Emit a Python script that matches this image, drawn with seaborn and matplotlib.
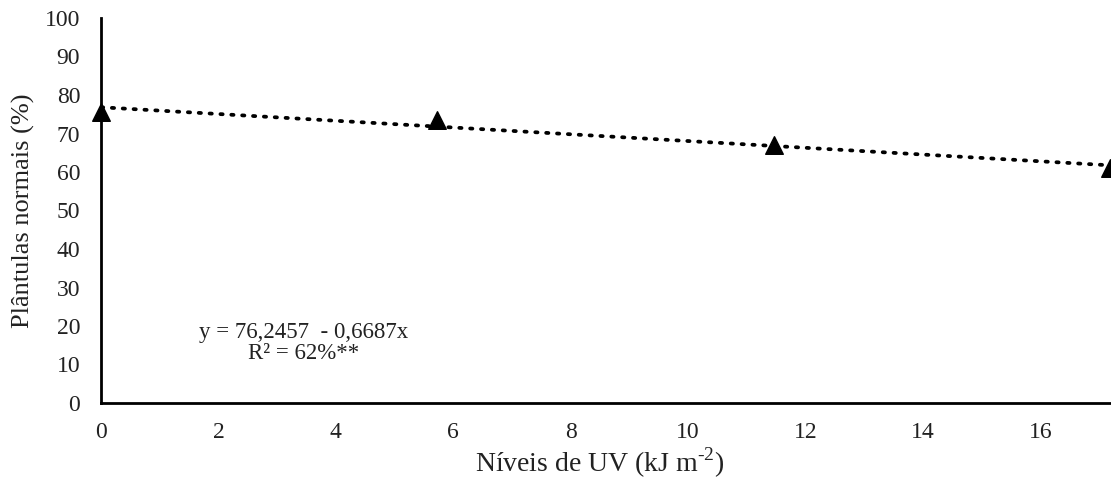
import numpy as np
import pandas as pd
import matplotlib
matplotlib.use("Agg")
import matplotlib.pyplot as plt
import seaborn as sns

# Data
uv_levels = [0.0, 5.73, 11.46, 17.19]
plantulas = [75.6, 73.5, 67.0, 61.0]
y_ticks = [0, 10, 20, 30, 40, 50, 60, 70, 80, 90, 100]
x_ticks = [0, 2, 4, 6, 8, 10, 12, 14, 16]
equation_text = "y = 76,2457  - 0,6687x"
r2_text = "R² = 62%**"

df = pd.DataFrame({"uv": uv_levels, "pn": plantulas})

sns.set_theme(style="white")
plt.rcParams["font.family"] = ["Liberation Serif", "DejaVu Serif"]
plt.rcParams["mathtext.fontset"] = "custom"
plt.rcParams["mathtext.rm"] = "Liberation Serif"

fig = plt.figure(figsize=(11.11, 4.82), dpi=100)
ax = fig.add_axes([101 / 1111, 79 / 482, 1 - 101 / 1111, (403 - 18) / 482])

# trend line (linear fit of the data)
coef = np.polyfit(df["uv"], df["pn"], 1)
xs = np.array([0.0, 17.2])
trend = pd.DataFrame({"uv": xs, "fit": np.polyval(coef, xs)})
sns.lineplot(data=trend, x="uv", y="fit", ax=ax, color="black",
             linestyle=(0, (0.6, 2.3)), linewidth=2.7, dash_capstyle="round")

sns.scatterplot(data=df, x="uv", y="pn", ax=ax, marker="^", s=160,
                color="black", edgecolor="black", zorder=5, clip_on=False)

ax.set_xlim(0, 17.2)
ax.set_ylim(0, 100)
ax.set_xticks(x_ticks)
ax.set_yticks(y_ticks)
ax.tick_params(axis="both", direction="out", length=5, width=2,
               color="black", labelsize=17, labelcolor="#222222", pad=10)
ax.tick_params(axis="x", pad=9)
for side in ["top", "right"]:
    ax.spines[side].set_visible(False)
for side in ["left", "bottom"]:
    ax.spines[side].set_color("black")
    ax.spines[side].set_linewidth(2)

ax.set_xlabel(r"Níveis de UV (kJ m$^{\text{-2}}$)", fontsize=20, color="#222222")
ax.xaxis.set_label_coords(0.494, -0.112)
ax.set_ylabel("Plântulas normais (%)", fontsize=19, color="#222222", labelpad=7)

ax.text(3.45, 18.4, equation_text, ha="center", va="center", fontsize=16.5,
        color="#222222")
ax.text(3.45, 12.8, r2_text, ha="center", va="center", fontsize=16.5,
        color="#222222")

fig.savefig("out.png", dpi=100)
